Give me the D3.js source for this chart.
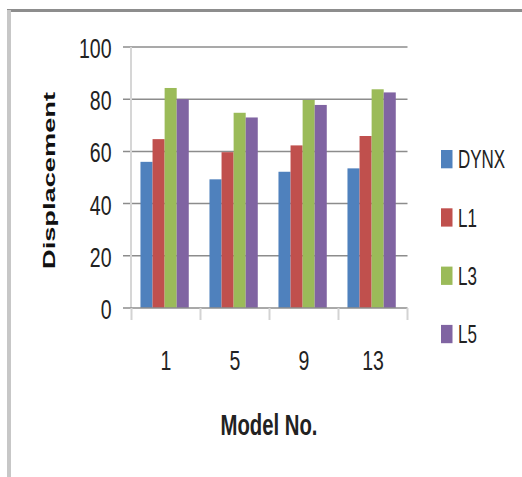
<!DOCTYPE html>
<html>
<head>
<meta charset="utf-8">
<script src="https://cdn.jsdelivr.net/npm/d3@7"></script>
<style>
  html, body { margin: 0; padding: 0; background: #ffffff; }
  svg { display: block; }
</style>
</head>
<body>
<svg id="chart" width="522" height="477"></svg>
<script>
// Displacement per model, four series
const categories = ["1", "5", "9", "13"];
const seriesNames = ["DYNX", "L1", "L3", "L5"];
const dynx = [56, 49.3, 52.2, 53.5];
const l1 = [64.7, 59.7, 62.3, 65.9];
const l3 = [84.3, 74.8, 79.7, 83.8];
const l5 = [80, 73, 77.8, 82.6];
const yTicks = [0, 20, 40, 60, 80, 100];
const colors = ["#4F81BD", "#C0504D", "#9BBB59", "#8064A2"];

const seriesValues = [dynx, l1, l3, l5];
const rows = categories.map((c, i) => ({
  cat: c,
  vals: seriesNames.map((s, k) => ({ name: s, value: seriesValues[k][i] }))
}));

const svg = d3.select("#chart");
const FONT = "'Liberation Sans', Arial, sans-serif";

// frame
svg.append("rect").attr("x", 7).attr("y", 9).attr("width", 515).attr("height", 3).attr("fill", "#8d8d8d");
svg.append("rect").attr("x", 7).attr("y", 10).attr("width", 4).attr("height", 467).attr("fill", "#c7c7c7");

const plot = { left: 131.5, right: 407.5, top: 47, bottom: 308 };

const x0 = d3.scaleBand().domain(categories).range([plot.left, plot.right]).paddingInner(0).paddingOuter(0);
const x1 = d3.scaleBand().domain(seriesNames)
  .range([x0.bandwidth() * 0.13, x0.bandwidth() * 0.83]);
const y = d3.scaleLinear().domain([0, 100]).range([plot.bottom, plot.top]);
const color = d3.scaleOrdinal().domain(seriesNames).range(colors);

// gridlines (extending left as tick marks)
svg.append("g").selectAll("line").data(yTicks.filter(t => t > 0)).join("line")
  .attr("x1", 123).attr("x2", plot.right)
  .attr("y1", d => y(d)).attr("y2", d => y(d))
  .attr("stroke", "#8c8c8c").attr("stroke-width", 1.5);

// value axis line
svg.append("line")
  .attr("x1", plot.left - 0.5).attr("x2", plot.left - 0.5)
  .attr("y1", plot.top).attr("y2", plot.bottom)
  .attr("stroke", "#d6d6d6").attr("stroke-width", 2);

// bars
const groups = svg.append("g").selectAll("g").data(rows).join("g")
  .attr("transform", d => `translate(${x0(d.cat)},0)`);
groups.selectAll("rect").data(d => d.vals).join("rect")
  .attr("x", d => x1(d.name))
  .attr("width", x1.bandwidth())
  .attr("y", d => y(d.value))
  .attr("height", d => y(0) - y(d.value))
  .attr("fill", d => color(d.name));

// category axis line and tick marks
svg.append("line")
  .attr("x1", 123).attr("x2", plot.right)
  .attr("y1", plot.bottom).attr("y2", plot.bottom)
  .attr("stroke", "#8c8c8c").attr("stroke-width", 1.5);
const boundaries = categories.map(c => x0(c)).concat([x0.range()[1]]);
svg.append("g").selectAll("line").data(boundaries).join("line")
  .attr("x1", d => d).attr("x2", d => d)
  .attr("y1", plot.bottom).attr("y2", plot.bottom + 12)
  .attr("stroke", "#d3d3d3").attr("stroke-width", 2);

// y axis labels
const yAxis = svg.append("g")
  .attr("transform", `translate(${plot.left},0)`)
  .call(d3.axisLeft(y).tickValues(yTicks).tickSize(0).tickPadding(20));
yAxis.select(".domain").remove();
yAxis.selectAll("text")
  .attr("dy", null)
  .attr("x", -20)
  .attr("y", 10.5 / 1.4)
  .attr("transform", "scale(1,1.4)")
  .attr("font-family", FONT)
  .attr("font-size", 19.5)
  .attr("fill", "#222");

// x axis labels
const xAxis = svg.append("g")
  .attr("transform", `translate(0,${plot.bottom})`)
  .call(d3.axisBottom(x0).tickSize(0).tickPadding(0));
xAxis.select(".domain").remove();
xAxis.selectAll("text")
  .attr("dy", null)
  .attr("y", 62 / 1.45)
  .attr("transform", "scale(1,1.45)")
  .attr("font-family", FONT)
  .attr("font-size", 19.5)
  .attr("fill", "#222");

// axis titles
svg.append("text")
  .attr("transform", `translate(269,435) scale(1,1.52)`)
  .attr("text-anchor", "middle")
  .attr("font-family", FONT)
  .attr("font-weight", "bold")
  .attr("font-size", 20)
  .attr("textLength", 97)
  .attr("lengthAdjust", "spacingAndGlyphs")
  .attr("fill", "#222")
  .text("Model No.");

svg.append("text")
  .attr("transform", "translate(55,180.5) rotate(-90)")
  .attr("text-anchor", "middle")
  .attr("font-family", FONT)
  .attr("font-weight", "bold")
  .attr("font-size", 16.3)
  .attr("textLength", 177)
  .attr("lengthAdjust", "spacingAndGlyphs")
  .attr("fill", "#111")
  .text("Displacement");

// legend
const legend = svg.append("g").selectAll("g").data(seriesNames).join("g")
  .attr("transform", (d, i) => `translate(441,${168.3 + i * 58.3})`);
legend.append("rect")
  .attr("x", 0).attr("y", -18.3)
  .attr("width", 11.5).attr("height", 18.3)
  .attr("fill", d => color(d));
legend.append("text")
  .attr("x", 17)
  .attr("transform", "scale(1,1.5)")
  .attr("font-family", FONT)
  .attr("font-size", 17)
  .attr("fill", "#222")
  .text(d => d);
</script>
</body>
</html>
